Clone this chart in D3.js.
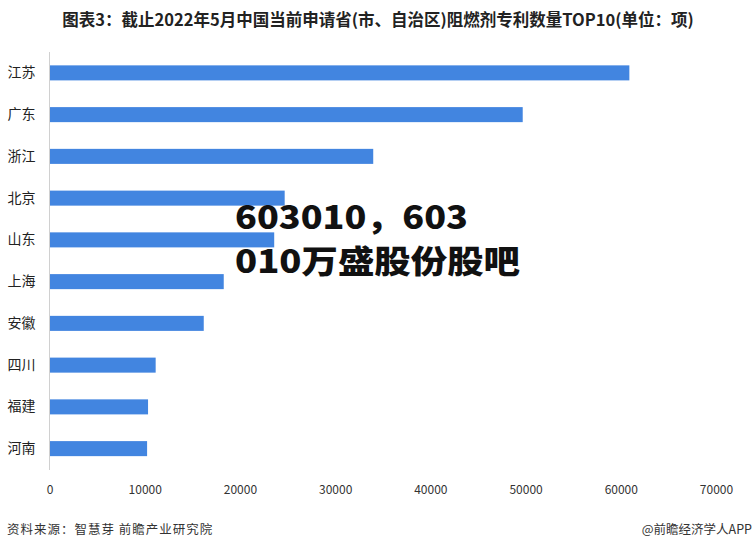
<!DOCTYPE html>
<html><head><meta charset="utf-8">
<script src="https://cdn.jsdelivr.net/npm/d3@7"></script>
<style>html,body{margin:0;padding:0;background:#fff;}svg{display:block;}</style>
</head><body>
<svg id="c" width="756" height="549"></svg>
<script>
const categories = ["江苏","广东","浙江","北京","山东","上海","安徽","四川","福建","河南"];
const values = [60900, 49700, 34000, 24700, 23600, 18300, 16200, 11150, 10350, 10250];
const xTicks = [0,10000,20000,30000,40000,50000,60000,70000];
const titleText = "图表3：截止2022年5月中国当前申请省(市、自治区)阻燃剂专利数量TOP10(单位：项)";
const sourceText = "资料来源：智慧芽 前瞻产业研究院";
const creditText = "@前瞻经济学人APP";
const overlayLines = ["603010，603","010万盛股份股吧"];

const svg = d3.select("#c");
const font = "'Noto Sans CJK SC','Noto Sans',sans-serif";
const x = d3.scaleLinear().domain([0,70000]).range([49.5,716]);
const y = d3.scaleBand().domain(categories).range([52,469.5]).paddingInner(0.64).paddingOuter(0.32);

svg.append("text").attr("x",378).attr("y",26).attr("text-anchor","middle")
  .attr("font-family",font).attr("font-weight","bold").attr("font-size",16.5).attr("fill","#222")
  .text(titleText);

svg.append("g").selectAll("rect").data(values).join("rect")
  .attr("x",x(0)).attr("y",(d,i)=>y(categories[i]))
  .attr("width",d=>x(d)-x(0)).attr("height",y.bandwidth())
  .attr("fill","#4285e0");

svg.append("line").attr("x1",49.5).attr("x2",49.5).attr("y1",52).attr("y2",470)
  .attr("stroke","#d0d0d0").attr("stroke-width",1);

const yAxis = d3.axisLeft(y).tickSize(0).tickPadding(14);
const gy = svg.append("g").attr("transform","translate(49.5,0)").call(yAxis);
gy.select(".domain").remove();
gy.selectAll("text").attr("font-family",font).attr("font-size",14).attr("fill","#222");

const xAxis = d3.axisBottom(x).tickValues(xTicks).tickSize(0).tickPadding(0).tickFormat(d3.format("d"));
const gx = svg.append("g").attr("transform","translate(0,485)").call(xAxis);
gx.select(".domain").remove();
gx.selectAll("text").attr("font-family",font).attr("font-size",12).attr("fill","#333");

svg.append("text").attr("x",7).attr("y",534).attr("font-family",font).attr("font-size",12.5)
  .attr("fill","#333").attr("letter-spacing",1).text(sourceText);
svg.append("text").attr("x",752).attr("y",534).attr("text-anchor","end").attr("font-family",font).attr("font-size",12.5)
  .attr("fill","#333").text(creditText);

const ovLen = [233, 285];
const ov = svg.append("g");
ov.selectAll("text").data(overlayLines).join("text")
  .attr("x",235).attr("y",(d,i)=>229+i*44)
  .attr("font-family",font).attr("font-weight",900).attr("font-size",32)
  .attr("textLength",(d,i)=>ovLen[i]).attr("lengthAdjust","spacingAndGlyphs")
  .attr("fill","#111").text(d=>d);
</script>
</body></html>
